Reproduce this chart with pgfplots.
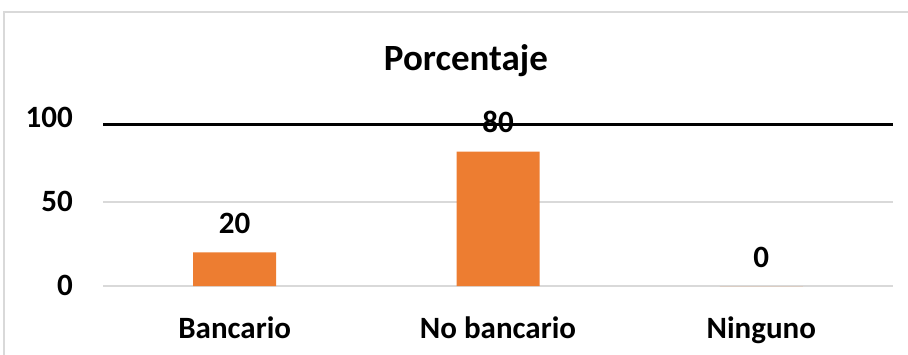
\documentclass[border=0pt]{standalone}
\usepackage{fontspec}
\setmainfont{Carlito}
\usepackage{pgfplots}
\pgfplotsset{compat=1.18}
\definecolor{barorange}{HTML}{ED7D31}
\definecolor{gridgray}{HTML}{D9D9D9}
\begin{document}
\begin{tikzpicture}
\useasboundingbox (0,0) rectangle (908pt,354pt);
\clip (0,0) rectangle (908pt,354pt);
\draw[gridgray, line width=1.3pt] (4pt,-20pt) rectangle (930pt,342pt);
\node[anchor=base, inner sep=0pt, font=\fontsize{37}{44}\selectfont\bfseries] at (466pt,283pt) {Porcentaje};
\begin{axis}[
  at={(103pt,68pt)}, anchor=south west,
  scale only axis, width=790pt, height=168pt,
  xmin=-0.5, xmax=2.5, ymin=0, ymax=100,
  xtick={0,1,2}, xticklabels={Bancario, No bancario, Ninguno},
  ytick={0,50}, extra y ticks={100}, extra y tick style={grid=none},
  ymajorgrids, grid style={gridgray, line width=1.5pt},
  axis line style={draw=none}, major tick length=0pt,
  /pgf/number format/assume math mode=true,
  tick label style={font=\fontsize{31}{37}\selectfont\bfseries, inner sep=0pt},
  xticklabel style={anchor=base, yshift=-52pt},
  yticklabel style={anchor=base east, xshift=-30pt, yshift=-9pt},
  clip=false,
]
\addplot[ybar, bar width=83pt, fill=barorange, draw=none,
  nodes near coords,
  every node near coord/.style={anchor=base, yshift=19pt, inner sep=0pt,
    font=\fontsize{31}{37}\selectfont\bfseries, text=black},
  /pgf/number format/assume math mode=true]
  coordinates {(0,20) (1,80) (2,0)};
\addplot[black, line width=3pt, sharp plot, mark=none]
  coordinates {(-0.5,96.4) (2.5,96.4)};
\end{axis}
\end{tikzpicture}
\end{document}
